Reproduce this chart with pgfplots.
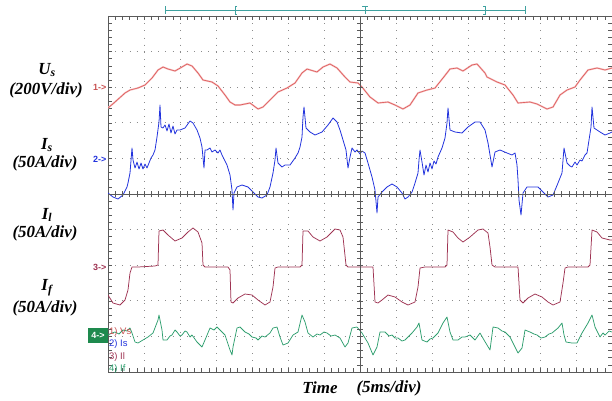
\documentclass[border=0pt]{standalone}
\usepackage{pgfplots}
\pgfplotsset{compat=1.18}
\usepackage{pgfplotstable}
\usepackage{fontspec}
\setmainfont{Liberation Serif}
\newfontfamily\scopefont{Liberation Sans}

\definecolor{vscol}{HTML}{DE5A5A}
\definecolor{vshalo}{HTML}{F4BDBD}
\definecolor{iscol}{HTML}{2233DD}
\definecolor{ilcol}{HTML}{9E3352}
\definecolor{ifcol}{HTML}{2E9E6E}
\definecolor{framecol}{HTML}{5A5A5A}
\definecolor{gridcol}{HTML}{8C8C8C}
\definecolor{trigcol}{HTML}{3FA2A0}
\definecolor{ch4box}{HTML}{1E8A4E}

% screen coordinates of the traces (x: 36 units per 5 ms division, y: 35.6 units per division, downward)
\pgfplotstableread{
x y
108 108
115 102
125 93
130 90
138 88
145 85
152 78
158 70
163 67
168 69
175 71
182 67
187 64
192 66
198 73
203 80
212 82
218 86
225 95
230 102
235 105
240 105
250 103
258 109
263 107
272 98
278 92
287 88
295 83
302 73
307 69
317 72
323 67
330 64
337 68
345 77
350 82
358 83
362 87
370 97
378 103
388 102
395 105
403 109
410 105
418 93
427 90
435 88
443 78
450 69
457 68
463 71
472 65
477 64
485 73
487 77
497 82
505 85
513 95
518 103
530 102
537 104
547 109
553 107
560 95
567 90
575 87
580 80
588 70
597 68
605 70
612 68
}\vsdata

\pgfplotstableread{
x y
108 193
113 197
118 199
123 195
127 187
128 183
130 173
132 148
133 160
135 168
137 162
139 169
141 163
143 169
145 164
147 168
149 163
151 158
153 155
155 150
157 137
159 122
160 105
161 127
163 128
165 125
167 131
169 124
171 133
173 126
175 134
177 130
180 130
185 128
190 121
193 123
197 130
200 138
202 147
204 168
205 150
207 150
210 148
212 152
215 150
218 153
220 150
222 155
227 165
230 175
232 190
233 210
234 193
237 187
242 185
248 187
253 192
258 197
262 198
267 195
270 187
273 173
275 160
276 148
278 163
282 167
285 165
290 165
295 158
298 153
300 147
302 137
303 117
304 107
306 128
310 132
315 135
322 132
328 125
333 118
337 122
340 130
343 140
346 150
348 168
350 157
352 148
355 152
357 150
360 154
362 151
365 153
368 163
372 177
375 190
377 213
378 197
382 192
387 187
392 184
397 187
402 193
405 199
408 197
412 192
415 183
418 173
419 160
420 150
422 162
424 175
426 165
428 172
430 163
432 169
434 161
436 164
438 157
442 148
445 138
447 123
448 108
450 130
455 132
462 133
468 127
475 122
480 122
485 130
488 143
492 167
495 152
500 150
507 153
512 155
515 153
517 165
518 180
519 200
521 215
523 193
527 187
533 187
538 187
543 192
548 197
553 195
558 183
562 173
563 160
564 148
567 163
570 166
572 167
575 162
577 165
580 160
582 161
585 155
587 153
589 140
591 127
592 107
594 128
600 132
605 135
610 133
612 132
}\isdata

\pgfplotstableread{
x y
108 295
113 303
120 305
125 300
128 290
130 273
132 267
138 267
155 266
158 265
159 231
163 230
168 235
175 241
182 238
188 232
193 228
198 232
202 243
203 265
205 267
228 267
230 270
231 302
233 303
238 298
245 294
252 295
258 300
265 305
270 302
273 287
275 268
278 267
300 267
302 265
303 231
308 231
313 237
320 241
327 237
335 229
340 230
343 237
346 265
348 267
373 267
375 302
378 303
382 300
388 295
395 297
402 302
408 305
415 302
418 287
420 268
425 267
445 267
447 265
448 230
453 232
458 238
463 242
470 237
478 230
483 229
488 233
490 247
492 265
495 267
518 267
520 300
523 303
528 298
535 294
542 297
548 302
553 305
560 302
563 283
565 268
568 267
588 267
590 265
592 230
597 232
602 238
610 240
612 240
}\ildata

\pgfplotstableread{
x y
108 335
112 333
115 332
119 334
123 330
127 331
130 328
132 333
135 342
138 343
143 340
148 337
153 333
158 320
159 315
162 330
163 340
167 340
170 336
172 335
175 330
177 332
180 336
182 335
185 331
187 332
190 337
192 335
197 342
202 347
205 340
210 328
214 330
217 327
220 330
225 335
230 350
232 355
233 347
237 328
240 327
245 332
249 334
252 337
256 338
258 340
262 336
265 337
270 333
273 328
277 327
280 337
283 345
288 343
293 335
298 332
302 315
305 322
308 333
313 337
317 334
320 335
324 332
327 333
331 336
335 335
340 338
345 347
348 343
352 328
357 327
362 333
368 343
373 355
377 347
380 332
385 332
389 336
392 335
395 338
398 338
402 341
405 340
409 336
412 333
417 327
419 323
422 340
427 342
430 339
433 338
438 333
443 323
447 317
450 332
453 340
458 340
462 337
465 337
470 335
475 340
480 333
484 340
487 345
490 350
493 327
498 328
502 331
505 332
510 337
515 347
518 353
522 348
525 330
530 332
534 334
537 335
541 338
545 337
549 334
552 333
558 328
562 323
564 335
566 342
572 343
577 343
582 333
588 323
592 315
595 327
600 337
603 333
605 335
609 331
612 332
}\ifdata

\begin{document}
\begin{tikzpicture}[x=1bp,y=1bp]
\useasboundingbox (0,0) rectangle (612,400);

\begin{axis}[
  at={(108bp,28bp)}, anchor=south west,
  scale only axis, width=504bp, height=356bp,
  xmin=108, xmax=612, ymin=16, ymax=372, y dir=reverse,
  xtick={108,144,...,612}, ytick={16,51.6,87.2,122.8,158.4,194,229.6,265.2,300.8,336.4,372},
  xticklabels={}, yticklabels={},
  minor x tick num=4, minor y tick num=4,
  tick align=inside, major tick length=4bp, minor tick length=4bp,
  tick style={framecol, line width=0.6pt},
  grid=major,
  major grid style={gridcol, line width=0.9pt, dash pattern=on 0.9pt off 6.3pt},
  axis line style={framecol, line width=0.8pt},
  clip=true,
]
\addplot[vshalo, line width=1.7pt, line join=round] table[x=x,y=y] {\vsdata};
\addplot[vscol, line width=0.6pt, line join=round] table[x=x,y=y] {\vsdata};
\addplot[iscol, line width=0.8pt, line join=round] table[x=x,y=y] {\isdata};
\addplot[ilcol, line width=0.75pt, line join=round] table[x=x,y=y] {\ildata};
\addplot[ifcol, line width=0.75pt, line join=round] table[x=x,y=y] {\ifdata};
\end{axis}

% centre cross of the graticule with its ticks
\draw[framecol, line width=0.8pt] (360,28) -- (360,384);
\draw[framecol, line width=0.8pt] (108,206) -- (612,206);
\foreach \i in {1,...,69} \draw[framecol, line width=0.6pt] (108+7.2*\i,203) -- ++(0,6);
\foreach \i in {1,...,49} \draw[framecol, line width=0.6pt] (357,28+7.12*\i) -- ++(6,0);

% trigger / record bar
\draw[trigcol, line width=0.7pt] (165,390) -- (525,390);
\draw[trigcol, line width=0.7pt] (165,386) -- (165,394);
\draw[trigcol, line width=0.7pt] (525,386) -- (525,394);
\draw[trigcol, line width=0.7pt] (237,394) -- (235,394) -- (235,386) -- (237,386);
\draw[trigcol, line width=0.7pt] (483,394) -- (485,394) -- (485,386) -- (483,386);
\draw[trigcol, line width=0.7pt] (362,394) -- (368,394) (365,394) -- (365,386);

% channel markers
\node[font=\scopefont\bfseries\fontsize{9}{10}\selectfont, text=vscol!90!black, anchor=east, inner sep=0pt] at (106.5,313) {1->};
\node[font=\scopefont\bfseries\fontsize{9}{10}\selectfont, text=iscol, anchor=east, inner sep=0pt] at (106.5,241) {2->};
\node[font=\scopefont\bfseries\fontsize{9}{10}\selectfont, text=ilcol, anchor=east, inner sep=0pt] at (106.5,133) {3->};
\fill[ch4box] (88,57) rectangle (108,72);
\node[font=\scopefont\bfseries\fontsize{9}{10}\selectfont, text=white, inner sep=0pt] at (98,64.5) {4->};

% channel list
\node[font=\scopefont\fontsize{9.5}{10}\selectfont, text=vscol!90!black, anchor=west, inner sep=0pt] at (109,68) {1) Vs};
\node[font=\scopefont\fontsize{9.5}{10}\selectfont, text=iscol, anchor=west, inner sep=0pt] at (109,56) {2) Is};
\node[font=\scopefont\fontsize{9.5}{10}\selectfont, text=ilcol, anchor=west, inner sep=0pt] at (109,43) {3) Il};
\node[font=\scopefont\fontsize{9.5}{10}\selectfont, text=ifcol, anchor=west, inner sep=0pt] at (109,31) {4) If};

% scale annotations
\begin{scope}[every node/.style={font=\bfseries\itshape\fontsize{17}{19}\selectfont, inner sep=0pt}]
\node at (47,330) {U\textsubscript{s}};
\node at (46,310) {(200V/div)};
\node at (47,255) {I\textsubscript{s}};
\node at (45,237) {(50A/div)};
\node at (47,185) {I\textsubscript{l}};
\node at (45,167) {(50A/div)};
\node at (47,112) {I\textsubscript{f}};
\node at (45,92) {(50A/div)};
\node at (320,12) {Time};
\node at (389,12) {(5ms/div)};
\end{scope}
\end{tikzpicture}
\end{document}
